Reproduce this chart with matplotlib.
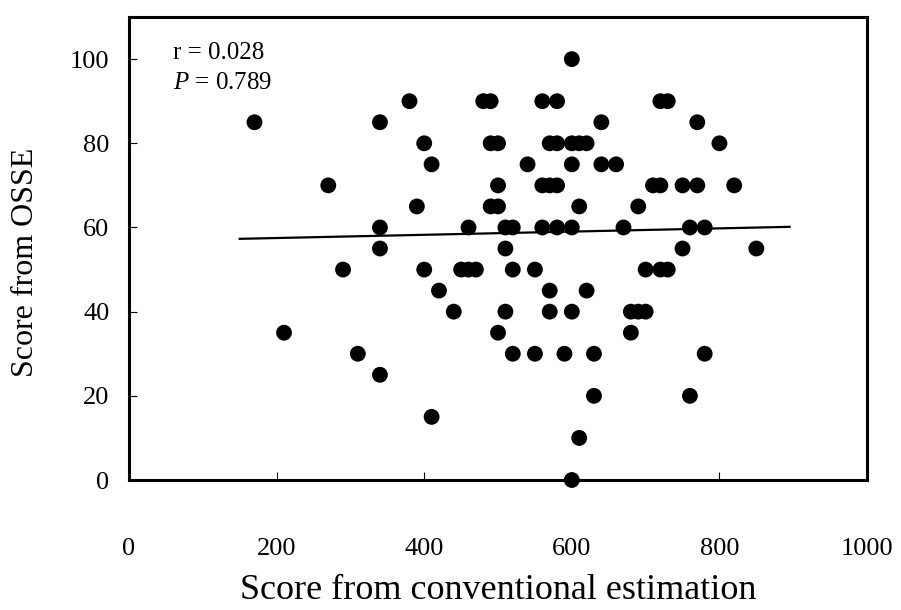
import matplotlib
matplotlib.use("Agg")
import matplotlib.pyplot as plt
import numpy as np

plt.rcParams['font.family'] = ['Liberation Serif', 'DejaVu Serif']
plt.rcParams['mathtext.fontset'] = 'custom'
plt.rcParams['mathtext.rm'] = 'Liberation Serif'
plt.rcParams['mathtext.it'] = 'Liberation Serif:italic'

# Score pairs (conventional, OSSE)
conventional = [
    170, 210, 270, 290, 310, 340, 340, 340, 340, 380,
    390, 400, 400, 410, 410, 420, 440, 450, 460, 460,
    470, 480, 490, 490, 490, 500, 500, 500, 500, 510,
    510, 510, 520, 520, 520, 540, 550, 550, 560, 560,
    560, 570, 570, 570, 570, 580, 580, 580, 580, 590,
    600, 600, 600, 600, 600, 600, 610, 610, 610, 620,
    620, 630, 630, 640, 640, 660, 670, 680, 680, 690,
    690, 700, 700, 710, 720, 720, 720, 730, 730, 750,
    750, 760, 760, 770, 770, 780, 780, 800, 820, 850,
]
osse = [
    85, 35, 70, 50, 30, 85, 60, 55, 25, 90,
    65, 80, 50, 75, 15, 45, 40, 50, 50, 60,
    50, 90, 90, 80, 65, 80, 70, 65, 35, 60,
    55, 40, 60, 50, 30, 75, 50, 30, 90, 70,
    60, 80, 70, 45, 40, 90, 80, 70, 60, 30,
    100, 80, 75, 60, 40, 0, 80, 65, 10, 80,
    45, 30, 20, 85, 75, 75, 60, 40, 35, 65,
    40, 50, 40, 70, 90, 70, 50, 90, 50, 70,
    55, 60, 20, 85, 70, 60, 30, 80, 70, 55,
]

x_ticks = [0, 200, 400, 600, 800, 1000]
y_ticks = [0, 20, 40, 60, 80, 100]
r_text = "r = 0.028"
p_text = "$P$ = 0.789"

x = np.array(conventional, dtype=float)
y = np.array(osse, dtype=float)

fig = plt.figure(figsize=(9.01, 6.10), dpi=100)
ax = fig.add_axes([0.1432, 0.2131, 0.8191, 0.7590])

ax.scatter(x, y, s=130, color='black', edgecolors='none', zorder=3, clip_on=False)

# least-squares trend line
slope, intercept = np.polyfit(x, y, 1)
line_x = np.array([150, 895])
ax.plot(line_x, intercept + slope * line_x, color='black', lw=1.6, zorder=2)

ax.set_xlim(0, 1000)
ax.set_ylim(0, 110)
ax.set_xticks(x_ticks)
ax.set_yticks(y_ticks)
ax.tick_params(direction='in', length=6, width=0.8, labelsize=19)
ax.tick_params(axis='x', pad=42)
ax.tick_params(axis='y', pad=14)
for sp in ax.spines.values():
    sp.set_linewidth(2.2)

ax.set_xlabel("Score from conventional estimation", fontsize=26, labelpad=10)
ax.set_ylabel("Score from OSSE", fontsize=23, labelpad=12)
ax.yaxis.set_label_coords(-0.12, 0.47)

ax.text(0.0596, 0.909, r_text, transform=ax.transAxes, fontsize=18, va='baseline')
ax.text(0.0596, 0.844, p_text, transform=ax.transAxes, fontsize=18, va='baseline')

fig.savefig("out.png", dpi=100)
